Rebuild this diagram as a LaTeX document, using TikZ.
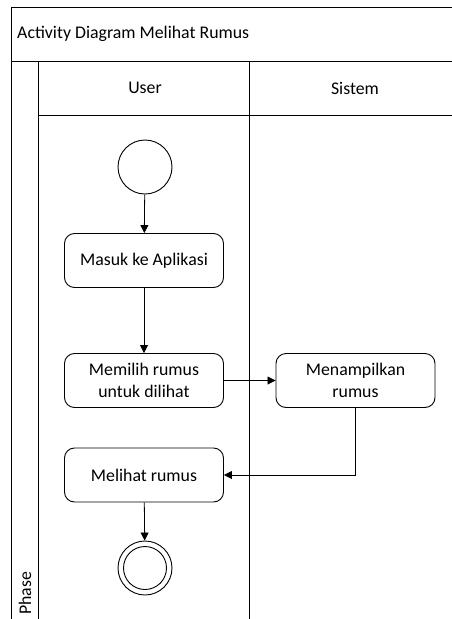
\documentclass[tikz,border=0pt]{standalone}
\usepackage{fontspec}
\setmainfont{Carlito}
\usetikzlibrary{arrows.meta}
\begin{document}
\begin{tikzpicture}[x=1pt,y=-1pt,
  frame/.style={line width=1pt},
  act/.style={draw,line width=0.9pt,rounded corners=10pt,minimum width=159pt,minimum height=54pt,align=center,inner sep=2pt,font=\fontsize{17.8}{21.5}\selectfont},
  lbl/.style={font=\fontsize{17.8}{21.5}\selectfont,inner sep=0pt},
  flow/.style={line width=0.8pt,-{Triangle[length=8pt,width=8pt]}}]
\useasboundingbox (0,0) rectangle (452,619);
% frame
\draw[frame] (452,7) -- (11,7) -- (11,619);
\draw[frame] (11,61) -- (452,61);
\draw[frame] (38,115) -- (452,115);
\draw[frame] (38,61) -- (38,619);
\draw[frame] (249,61) -- (249,619);
\node[lbl,anchor=west] (title) at (17,34) {Activity Diagram Melihat Rumus};
\node[lbl] (user) at (145,88) {User};
\node[lbl] (sistem) at (355,88) {Sistem};
\node[lbl,rotate=90,anchor=west] (phase) at (25,615) {Phase};
% nodes
\node[draw,circle,line width=0.9pt,minimum size=54pt,inner sep=0pt] (start) at (145,167) {};
\node[act] (a1) at (144,260.5) {Masuk ke Aplikasi};
\node[act] (a2) at (144,380.5) {Memilih rumus\\untuk dilihat};
\node[act] (a3) at (355.5,380.5) {Menampilkan\\rumus};
\node[act] (a4) at (144,475) {Melihat rumus};
\node[draw,circle,line width=0.9pt,minimum size=54pt,inner sep=0pt] (end) at (145,568) {};
\node[draw,circle,line width=0.9pt,minimum size=43pt,inner sep=0pt] (endin) at (145,568) {};
% flows
\draw[flow] (start) -- (a1);
\draw[flow] (a1) -- (a2);
\draw[flow] (a2) -- (a3);
\draw[flow] (a3.south) |- (a4.east);
\draw[flow] (a4) -- (end);
\end{tikzpicture}
\end{document}
